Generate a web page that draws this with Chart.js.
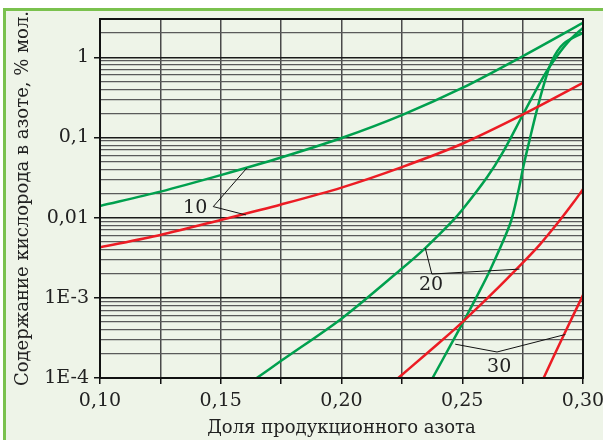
<!DOCTYPE html>
<html>
<head>
<meta charset="utf-8">
<script src="https://cdn.jsdelivr.net/npm/chart.js@4.4.1/dist/chart.umd.min.js"></script>
<style>
  html, body { margin: 0; padding: 0; background: #fff; }
  #wrap { position: relative; width: 603px; height: 440px; overflow: hidden; }
  #frame { position: absolute; left: 3px; top: 8px; right: -10px; bottom: -10px;
           border-left: 3px solid #7ac14e; border-top: 3px solid #7ac14e; background: #eef4e8; }
  canvas { position: absolute; left: 0; top: 0; }
</style>
</head>
<body>
<div id="wrap"><div id="frame"></div><canvas id="chart" width="603" height="440"></canvas></div>
<script>
// x axis ticks
const xTickValues = [0.10, 0.125, 0.15, 0.175, 0.20, 0.225, 0.25, 0.275, 0.30];
const xTickLabels = ['0,10', '', '0,15', '', '0,20', '', '0,25', '', '0,30'];
// y axis decades (log)
const yDecades = [1e-4, 1e-3, 0.01, 0.1, 1];
const yTickLabels = ['1E-4', '1E-3', '0,01', '0,1', '1'];
const yMax = 3;

// series
const xG10 = [0.10, 0.125, 0.15, 0.175, 0.20, 0.225, 0.25, 0.275, 0.30];
const yG10 = [0.0140, 0.0211, 0.0339, 0.0562, 0.0983, 0.19, 0.414, 1.03, 2.69];
const xR10 = [0.10, 0.125, 0.15, 0.175, 0.20, 0.225, 0.25, 0.275, 0.30];
const yR10 = [0.00427, 0.00608, 0.00936, 0.0146, 0.0237, 0.0427, 0.0834, 0.192, 0.479];
const xG20 = [0.1649, 0.1753, 0.2004, 0.2243, 0.2347, 0.2454, 0.2501, 0.2602, 0.2671, 0.2751, 0.2837, 0.2892, 0.2947, 0.30];
const yG20 = [1e-4, 1.66e-4, 5.62e-4, 0.00222, 0.00417, 0.0087, 0.0126, 0.0316, 0.0676, 0.192, 0.579, 1.03, 1.66, 2.33];
const xR20 = [0.2235, 0.2347, 0.2450, 0.2505, 0.2616, 0.2751, 0.2823, 0.2905, 0.2961, 0.30];
const yR20 = [1e-4, 1.95e-4, 3.63e-4, 5.13e-4, 0.00107, 0.00275, 0.00468, 0.00933, 0.0155, 0.0226];
const xG30 = [0.2377, 0.2450, 0.2501, 0.2561, 0.2616, 0.2699, 0.2733, 0.2754, 0.2782, 0.2809, 0.2837, 0.2872, 0.2920, 0.30];
const yG30 = [1e-4, 2.51e-4, 4.79e-4, 0.00105, 0.00224, 0.0085, 0.0219, 0.0447, 0.102, 0.219, 0.447, 0.912, 1.48, 2.02];
const xR30 = [0.2837, 0.2920, 0.30];
const yR30 = [1e-4, 3.42e-4, 0.00108];

// curve labels and their leader lines (data coords)
const labelTexts = ['10', '20', '30'];
const labelX = [0.1394, 0.2371, 0.2653];
const labelY = [0.0132, 0.00144, 1.36e-4];
const leaderX = [[0.1608, 0.1469, 0.1604], [0.2347, 0.2374, 0.2737], [0.2471, 0.2644, 0.2927]];
const leaderY = [[0.0415, 0.01372, 0.0108], [0.00417, 0.00198, 0.00228], [2.64e-4, 2.11e-4, 3.49e-4]];

const GREEN = '#00a04e';
const RED = '#ec1c24';
const FONT = 'DejaVu Serif';

const pts = (xs, ys) => xs.map((x, i) => ({ x: x, y: ys[i] }));
const isDecade = v => yDecades.some(d => Math.abs(d - v) / d < 1e-6);

const line = (data, color) => ({
  data: data,
  borderColor: color,
  borderWidth: 2.5,
  pointRadius: 0,
  fill: false,
  tension: 0.3
});

const frameAndLabels = {
  id: 'frameAndLabels',
  afterDatasetsDraw(chart) {
    const { ctx, chartArea: a, scales: { x, y } } = chart;
    ctx.save();
    ctx.strokeStyle = '#111';
    ctx.lineWidth = 2;
    ctx.strokeRect(a.left, a.top, a.right - a.left, a.bottom - a.top);

    ctx.strokeStyle = '#111';
    ctx.lineWidth = 1;
    for (let i = 0; i < labelTexts.length; i++) {
      ctx.beginPath();
      leaderX[i].forEach((lx, j) => {
        const px = x.getPixelForValue(lx), py = y.getPixelForValue(leaderY[i][j]);
        if (j === 0) ctx.moveTo(px, py); else ctx.lineTo(px, py);
      });
      ctx.stroke();
    }
    ctx.fillStyle = '#222';
    ctx.font = '19px "' + FONT + '"';
    ctx.textAlign = 'center';
    ctx.textBaseline = 'middle';
    for (let i = 0; i < labelTexts.length; i++) {
      ctx.fillText(labelTexts[i], x.getPixelForValue(labelX[i]), y.getPixelForValue(labelY[i]));
    }
    ctx.restore();
  }
};

new Chart(document.getElementById('chart').getContext('2d'), {
  type: 'line',
  data: {
    datasets: [
      line(pts(xG10, yG10), GREEN),
      line(pts(xR10, yR10), RED),
      line(pts(xG20, yG20), GREEN),
      line(pts(xR20, yR20), RED),
      line(pts(xG30, yG30), GREEN),
      line(pts(xR30, yR30), RED)
    ]
  },
  options: {
    responsive: false,
    animation: false,
    devicePixelRatio: 1,
    layout: { padding: { left: 0, top: 19, right: 20, bottom: 0 } },
    plugins: { legend: { display: false }, tooltip: { enabled: false } },
    scales: {
      x: {
        type: 'linear',
        min: 0.10,
        max: 0.30,
        afterBuildTicks: s => { s.ticks = xTickValues.map(v => ({ value: v })); },
        afterFit: s => { s.height = 62; s.paddingLeft = 0; s.paddingRight = 0; },
        ticks: {
          autoSkip: false,
          maxRotation: 0,
          padding: 6,
          color: '#222',
          font: { family: FONT, size: 19 },
          callback: (v, i) => xTickLabels[i]
        },
        grid: { color: '#4a4a4a', lineWidth: 1.5, tickLength: 6, tickColor: '#111' },
        border: { color: '#111', width: 2 },
        title: {
          display: true,
          text: 'Доля продукционного азота',
          color: '#222',
          font: { family: FONT, size: 18, lineHeight: 1.2 },
          padding: { top: 0, bottom: 1 }
        }
      },
      y: {
        type: 'logarithmic',
        min: yDecades[0],
        max: yMax,
        afterBuildTicks: s => {
          const t = [];
          yDecades.forEach(d => { for (let k = 1; k <= 9; k++) { if (d * k <= yMax + 1e-9) t.push({ value: d * k }); } });
          s.ticks = t;
        },
        afterFit: s => { s.width = 100; },
        ticks: {
          autoSkip: false,
          padding: 5,
          color: '#222',
          font: { family: FONT, size: 19 },
          callback: v => {
            const i = yDecades.findIndex(d => Math.abs(d - v) / d < 1e-6);
            return i >= 0 ? yTickLabels[i] : '';
          }
        },
        grid: {
          color: c => isDecade(c.tick.value) ? '#1a1a1a' : '#5a5a5a',
          lineWidth: c => isDecade(c.tick.value) ? 1.5 : 1.3,
          tickLength: 6,
          tickColor: c => isDecade(c.tick.value) ? '#111' : 'rgba(0,0,0,0)'
        },
        border: { color: '#111', width: 2 },
        title: {
          display: true,
          text: 'Содержание кислорода в азоте, % мол.',
          color: '#222',
          font: { family: FONT, size: 18, lineHeight: 1.2 },
          padding: { top: 13, bottom: 0 }
        }
      }
    }
  },
  plugins: [frameAndLabels]
});
</script>
</body>
</html>
